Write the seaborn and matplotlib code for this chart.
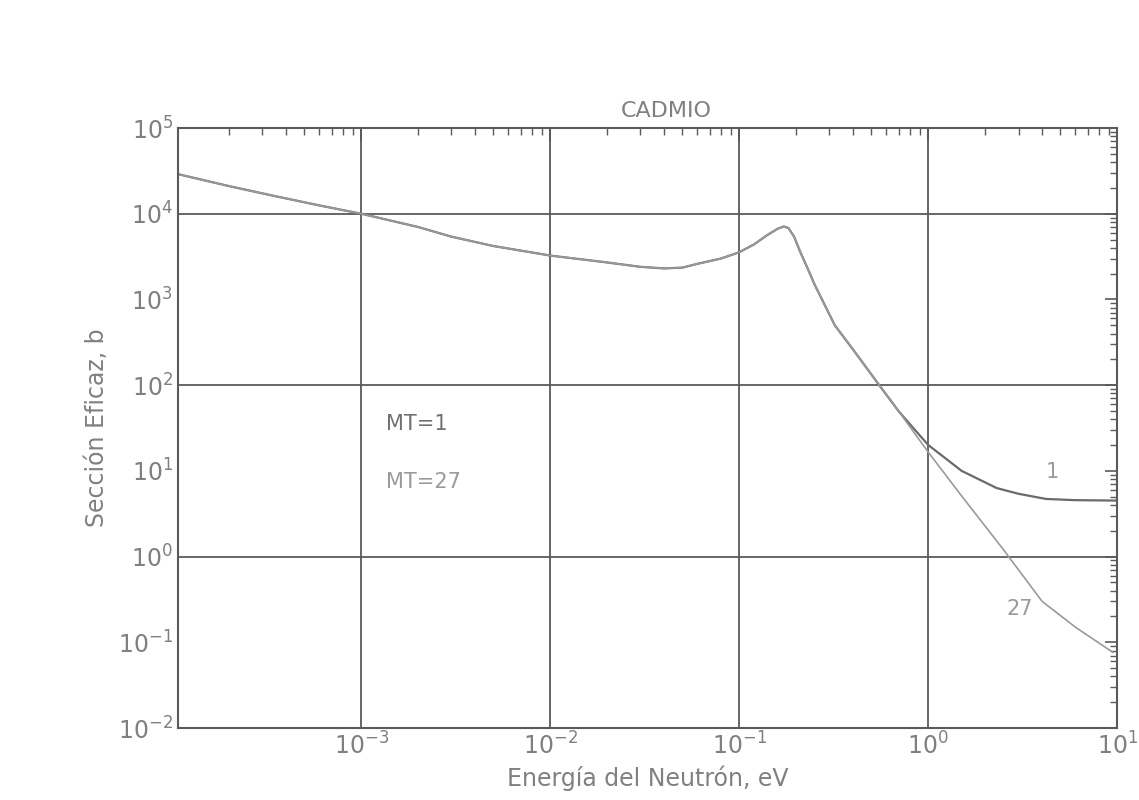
import numpy as np
import pandas as pd
import seaborn as sns
import matplotlib.pyplot as plt
from matplotlib.ticker import LogLocator, FixedLocator, NullFormatter

# -------------------------
# DATA
# -------------------------
energy_low = [1.07e-4, 2e-4, 3.3e-4, 6e-4, 1e-3, 2e-3, 3e-3, 5e-3, 1e-2, 2e-2, 3e-2,
              4e-2, 5e-2, 6e-2, 8e-2, 0.1, 0.12, 0.14, 0.16, 0.172, 0.182, 0.195,
              0.21, 0.23, 0.25, 0.32, 0.4, 0.55, 0.7]
sigma_low = [2.9e4, 2.1e4, 1.65e4, 1.25e4, 1.0e4, 7.0e3, 5.4e3, 4.2e3, 3.25e3, 2.7e3, 2.4e3,
             2.3e3, 2.35e3, 2.6e3, 3.0e3, 3.55e3, 4.4e3, 5.6e3, 6.7e3, 7.1e3, 6.8e3, 5.4e3,
             3.6e3, 2.3e3, 1.5e3, 5.0e2, 2.6e2, 1.0e2, 4.9e1]

energy_hi_1 = [0.85, 1.0, 1.5, 2.3, 3.0, 4.2, 6.0, 10.0]
sigma_hi_1 = [30.0, 20.0, 10.0, 6.3, 5.4, 4.7, 4.55, 4.5]

energy_hi_27 = [0.85, 1.0, 1.5, 2.5, 4.0, 6.0, 9.5]
sigma_hi_27 = [27.0, 16.5, 5.1, 1.2, 0.30, 0.15, 0.076]

x_ticks = [1e-3, 1e-2, 1e-1, 1e0, 1e1]
y_ticks = [1e-2, 1e-1, 1e0, 1e1, 1e2, 1e3, 1e4, 1e5]
y_grid = [1e4, 1e2, 1e0]

mt1 = pd.DataFrame({"E": energy_low + energy_hi_1, "sigma": sigma_low + sigma_hi_1})
mt27 = pd.DataFrame({"E": energy_low + energy_hi_27, "sigma": sigma_low + sigma_hi_27})

# -------------------------
# PLOT
# -------------------------
sns.set_style("white")
plt.rcParams["font.family"] = ["DejaVu Sans"]
plt.rcParams["mathtext.fontset"] = "dejavuserif"

fig = plt.figure(figsize=(11.39, 8), dpi=100)
ax = fig.add_axes([0.156, 0.09, 0.825, 0.75])

axis_col = "#5a5a5a"
text_col = "#808080"

sns.lineplot(data=mt1, x="E", y="sigma", ax=ax, color="#6a6a6a", lw=1.6, sort=False)
sns.lineplot(data=mt27, x="E", y="sigma", ax=ax, color="#9a9a9a", lw=1.2, sort=False)

ax.set_xscale("log")
ax.set_yscale("log")
ax.set_xlim(1.07e-4, 10)
ax.set_ylim(1e-2, 1e5)

for x in x_ticks[:-1]:
    ax.axvline(x, color=axis_col, lw=1.3, zorder=0)
for y in y_grid:
    ax.axhline(y, color=axis_col, lw=1.3, zorder=0)

ax.xaxis.set_major_locator(FixedLocator(x_ticks))
ax.yaxis.set_major_locator(FixedLocator(y_ticks))
ax.xaxis.set_minor_locator(LogLocator(base=10, subs=np.arange(2, 10), numticks=20))
ax.yaxis.set_minor_locator(LogLocator(base=10, subs=np.arange(2, 10), numticks=20))
ax.xaxis.set_minor_formatter(NullFormatter())
ax.yaxis.set_minor_formatter(NullFormatter())
ax.xaxis.get_offset_text().set_visible(False)
ax.yaxis.get_offset_text().set_visible(False)

ax.tick_params(which="both", direction="in", top=True, right=True, colors=axis_col,
               labelcolor=text_col, labelsize=17)
ax.tick_params(which="major", length=9, width=1.2)
ax.tick_params(which="minor", length=5, width=1.0)
for s in ax.spines.values():
    s.set_color(axis_col)
    s.set_linewidth(1.5)

ax.set_xlabel("Energía del Neutrón, eV", fontsize=17, color=text_col, labelpad=4)
ax.set_ylabel("Sección Eficaz, b", fontsize=17, color=text_col, labelpad=6)
ax.set_title("CADMIO", fontsize=16, color=text_col, pad=8, x=0.52)

ax.text(1.35e-3, 30, "MT=1", fontsize=15, color="#707070")
ax.text(1.35e-3, 6.3, "MT=27", fontsize=15, color="#9a9a9a")
ax.text(4.2, 8.3, "1", fontsize=15, color="#9a9a9a")
ax.text(2.6, 0.21, "27", fontsize=15, color="#9a9a9a")

plt.savefig("out.png", dpi=100)
